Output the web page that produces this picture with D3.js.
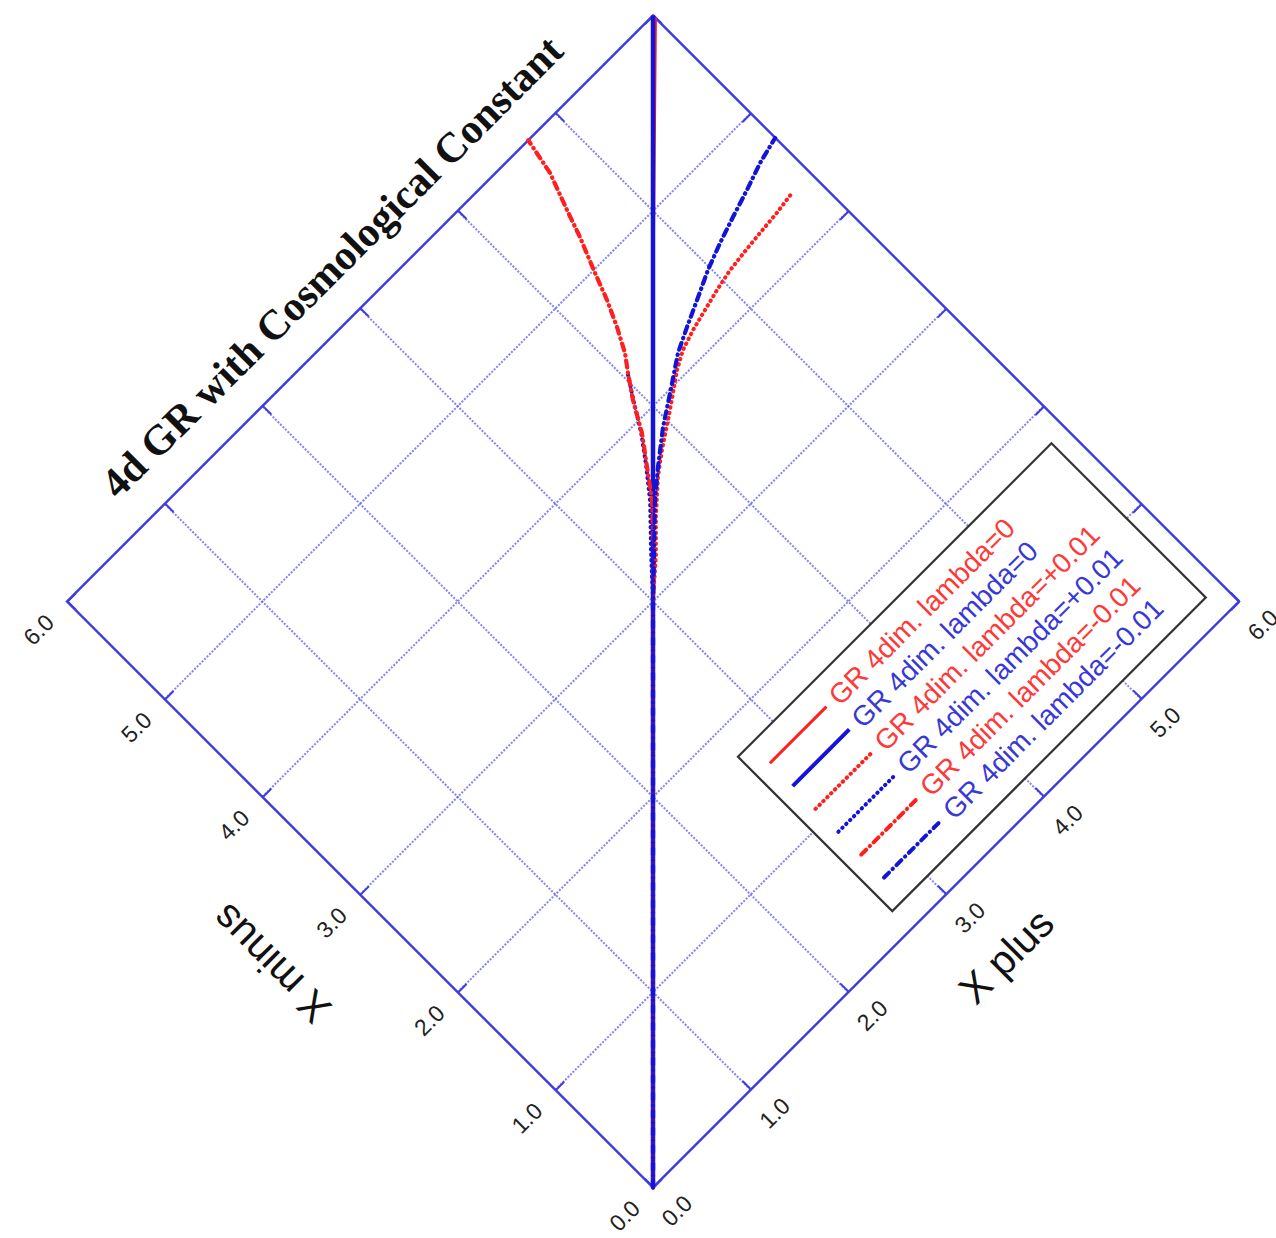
<!DOCTYPE html>
<html>
<head>
<meta charset="utf-8">
<script src="https://cdn.jsdelivr.net/npm/d3@7"></script>
<style>
  html, body { margin: 0; padding: 0; background: #ffffff; }
  svg { display: block; }
</style>
</head>
<body>
<svg id="chart" width="1276" height="1238"></svg>
<script>
// ---------------- data (X plus, X minus) ----------------
const tickValues = [0, 1, 2, 3, 4, 5, 6];
const gridValues = [1, 2, 3, 4, 5];
const titleText = "4d GR with Cosmological Constant";
const xLabel = "X plus";
const yLabel = "X minus";

const legendLabels = [
  "GR 4dim. lambda=0",
  "GR 4dim. lambda=0",
  "GR 4dim. lambda=+0.01",
  "GR 4dim. lambda=+0.01",
  "GR 4dim. lambda=-0.01",
  "GR 4dim. lambda=-0.01"
];

const redLambda0 = [[0, 0], [4.6, 4.6], [6.0, 5.975]];
const blueLambda0 = [[0, 0], [6.0, 6.0]];
const redPlus = [[0, 0], [1, 1], [2, 2], [3, 3], [3.25, 3.22], [3.45, 3.42], [3.663, 3.612],
  [3.822, 3.730], [4.067, 3.893], [4.308, 4.062], [4.441, 4.134], [4.595, 4.185],
  [4.759, 4.226], [4.922, 4.267], [5.081, 4.300], [5.245, 4.320], [5.434, 4.339],
  [5.624, 4.356], [5.803, 4.380]];
const bluePlus = [[0, 0], [1, 1], [2, 2], [3, 3], [3.24, 3.26], [3.50, 3.53], [3.66, 3.73],
  [3.80, 3.92], [3.93, 4.13], [4.04, 4.30]];
const redMinus = [[0, 0], [1, 1], [2, 2], [3, 3], [3.26, 3.25], [3.515, 3.525], [3.658, 3.719],
  [3.806, 3.919], [3.929, 4.134], [4.042, 4.298], [4.129, 4.416], [4.221, 4.590],
  [4.308, 4.779], [4.385, 4.979], [4.492, 5.240], [4.564, 5.445], [4.667, 5.721], [4.723, 6.0]];
const blueMinus = [[0, 0], [1, 1], [2, 2], [3, 3], [3.25, 3.24], [3.53, 3.51], [3.714, 3.663],
  [3.945, 3.842], [4.155, 3.980], [4.400, 4.144], [4.579, 4.231], [4.769, 4.318],
  [4.979, 4.416], [5.178, 4.492], [5.378, 4.559], [5.588, 4.626], [5.793, 4.697], [5.998, 4.748]];

const seriesData = [redLambda0, blueLambda0, redPlus, bluePlus, redMinus, blueMinus];

// ---------------- styles ----------------
const RED = "#ff1f1f", BLUE = "#1414d8";
const FRAME = "#3c3ce2";
const styles = [
  { color: RED,  width: 3,   dash: null,          cap: "butt" },
  { color: BLUE, width: 4.5, dash: null,          cap: "butt" },
  { color: RED,  width: 4,   dash: "0.5,5",       cap: "round" },
  { color: BLUE, width: 4,   dash: "0.5,5",       cap: "round" },
  { color: RED,  width: 4.2, dash: "7,5,0.5,5",   cap: "round" },
  { color: BLUE, width: 4.2, dash: "7,5,0.5,5",   cap: "round" }
];
const legendTextColors = ["#ff3838", "#3838d8", "#ff3838", "#3838d8", "#ff3838", "#3838d8"];

// ---------------- layout ----------------
const ox = 653, oy = 1187.5;
const L = 828.7;

const svg = d3.select("#chart");
svg.append("rect").attr("width", 1276).attr("height", 1238).attr("fill", "#ffffff");

const g = svg.append("g")
  .attr("transform", `translate(${ox},${oy}) rotate(-45) translate(0,${-L})`);

const x = d3.scaleLinear().domain([0, 6]).range([0, L]);
const y = d3.scaleLinear().domain([0, 6]).range([L, 0]);

// grid
const grid = g.append("g");
grid.selectAll("line.gx").data(gridValues).join("line")
  .attr("x1", d => x(d)).attr("x2", d => x(d)).attr("y1", y(0)).attr("y2", y(6))
  .attr("stroke", "#5252ec").attr("stroke-width", 2).attr("stroke-dasharray", "2,1.5").attr("opacity", 0.7);
grid.selectAll("line.gy").data(gridValues).join("line")
  .attr("y1", d => y(d)).attr("y2", d => y(d)).attr("x1", x(0)).attr("x2", x(6))
  .attr("stroke", "#5252ec").attr("stroke-width", 2).attr("stroke-dasharray", "2,1.5").attr("opacity", 0.7);

// axes
const fmt = d3.format(".1f");
function styleAxis(sel) {
  sel.select(".domain").remove();
  sel.selectAll(".tick line").attr("stroke", FRAME).attr("stroke-width", 2);
  sel.selectAll(".tick text").attr("fill", "#222")
    .attr("font-family", "'Liberation Sans', Arial, sans-serif").attr("font-size", 23);
}
g.append("g").attr("transform", `translate(0,${L})`)
  .call(d3.axisBottom(x).tickValues(tickValues).tickFormat(fmt).tickSizeInner(-12).tickSizeOuter(0).tickPadding(25))
  .call(styleAxis);
g.append("g")
  .call(d3.axisLeft(y).tickValues(tickValues).tickFormat(fmt).tickSizeInner(-12).tickSizeOuter(0).tickPadding(24))
  .call(styleAxis);
g.append("g")
  .call(d3.axisTop(x).tickValues(tickValues).tickFormat("").tickSizeInner(-12).tickSizeOuter(0))
  .call(styleAxis);
g.append("g").attr("transform", `translate(${L},0)`)
  .call(d3.axisRight(y).tickValues(tickValues).tickFormat("").tickSizeInner(-12).tickSizeOuter(0))
  .call(styleAxis);

// frame
g.append("rect").attr("x", 0).attr("y", 0).attr("width", L).attr("height", L)
  .attr("fill", "none").attr("stroke", FRAME).attr("stroke-width", 2.4);

// series
const line = d3.line().x(d => x(d[0])).y(d => y(d[1]));
seriesData.forEach((data, i) => {
  const s = styles[i];
  g.append("path").datum(data)
    .attr("d", line)
    .attr("fill", "none")
    .attr("stroke", s.color)
    .attr("stroke-width", s.width)
    .attr("stroke-linecap", s.cap)
    .attr("stroke-linejoin", "round")
    .attr("stroke-dasharray", s.dash);
});

// axis titles
g.append("text").attr("x", x(3) - 1).attr("y", L + 86).attr("dy", "0.35em")
  .attr("text-anchor", "middle").attr("font-family", "'Liberation Sans', Arial, sans-serif")
  .attr("font-size", 41).attr("fill", "#111").text(xLabel);
g.append("text").attr("transform", `translate(-112,${y(3.1)}) rotate(-90)`).attr("dy", "0.35em")
  .attr("text-anchor", "middle").attr("font-family", "'Liberation Sans', Arial, sans-serif")
  .attr("font-size", 41).attr("fill", "#111").text(yLabel);

// title
g.append("text").attr("x", x(3.07)).attr("y", -50).attr("dy", "0.35em")
  .attr("text-anchor", "middle").attr("font-family", "'Liberation Serif', 'Times New Roman', serif")
  .attr("font-weight", "bold").attr("font-size", 42).attr("fill", "#111").text(titleText);

// legend
const lg = g.append("g");
lg.append("rect")
  .attr("x", x(2.64)).attr("y", y(1.77))
  .attr("width", x(5.85) - x(2.64)).attr("height", y(0.19) - y(1.77))
  .attr("fill", "#ffffff").attr("stroke", "#333").attr("stroke-width", 2.2);
legendLabels.forEach((lab, i) => {
  const m = 1.574 - i * 0.234;
  const s = styles[i];
  lg.append("line")
    .attr("x1", x(2.77)).attr("x2", x(3.35)).attr("y1", y(m)).attr("y2", y(m))
    .attr("stroke", s.color).attr("stroke-width", Math.min(s.width, 4))
    .attr("stroke-linecap", s.cap).attr("stroke-dasharray", s.dash);
  lg.append("text").attr("x", x(3.42)).attr("y", y(m)).attr("dy", "0.35em")
    .attr("font-family", "'Liberation Sans', Arial, sans-serif").attr("font-size", 28)
    .attr("fill", legendTextColors[i]).text(lab);
});
</script>
</body>
</html>
